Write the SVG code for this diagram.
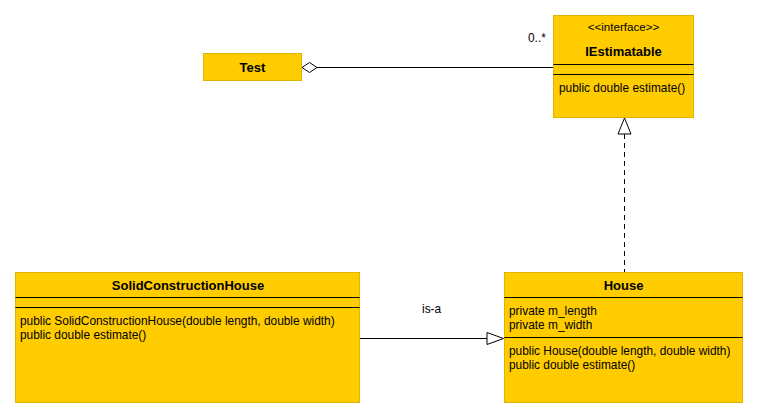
<svg xmlns="http://www.w3.org/2000/svg" width="759" height="419" viewBox="0 0 759 419">
<style>
.box{fill:#FFCC00;stroke:#e0b400;stroke-width:1}
.sep{stroke:#000;stroke-width:1}
text{font-family:"Liberation Sans",Arial,sans-serif;font-size:11.9px;fill:#000}
.t{font-weight:bold;font-size:13px;text-anchor:middle}
.st{font-size:11.6px;text-anchor:middle}
.ln{stroke:#000;stroke-width:1;fill:none}
</style>
<rect width="759" height="419" fill="#fff"/>
<g id="connectors">
<line class="ln" x1="317" y1="67.5" x2="553" y2="67.5"/>
<polygon points="302,67.5 309.5,62.5 317,67.5 309.5,72.5" fill="#fff" stroke="#000"/>
<text x="528" y="42">0..*</text>
<line class="ln" x1="624.5" y1="134" x2="624.5" y2="272" stroke-dasharray="5,4"/>
<polygon points="624.5,118 631,134 618,134" fill="#fff" stroke="#000"/>
<line class="ln" x1="360" y1="338.5" x2="487" y2="338.5"/>
<polygon points="503.5,338.5 487,332.5 487,344.5" fill="#fff" stroke="#000"/>
<text x="422" y="313">is-a</text>
</g>
<g id="Test">
<rect class="box" x="203.5" y="53.5" width="98" height="27"/>
<text class="t" x="252.5" y="71.5">Test</text>
</g>
<g id="IEstimatable">
<rect class="box" x="553.5" y="15.5" width="140" height="102"/>
<text class="st" x="623.5" y="31">&lt;&lt;interface&gt;&gt;</text>
<text class="t" x="623.5" y="56">IEstimatable</text>
<line class="sep" x1="553.5" y1="64.5" x2="693.5" y2="64.5"/>
<line class="sep" x1="553.5" y1="74.5" x2="693.5" y2="74.5"/>
<text x="559" y="92">public double estimate()</text>
</g>
<g id="SolidConstructionHouse">
<rect class="box" x="15.5" y="272.5" width="344" height="130"/>
<text class="t" x="188" y="290">SolidConstructionHouse</text>
<line class="sep" x1="15.5" y1="297.5" x2="359.5" y2="297.5"/>
<line class="sep" x1="15.5" y1="307.5" x2="359.5" y2="307.5"/>
<text x="20" y="325">public SolidConstructionHouse(double length, double width)</text>
<text x="20" y="339">public double estimate()</text>
</g>
<g id="House">
<rect class="box" x="504.5" y="272.5" width="238" height="130"/>
<text class="t" x="623.5" y="290">House</text>
<line class="sep" x1="504.5" y1="297.5" x2="742.5" y2="297.5"/>
<text x="509" y="315">private m_length</text>
<text x="509" y="329">private m_width</text>
<line class="sep" x1="504.5" y1="337.5" x2="742.5" y2="337.5"/>
<text x="509" y="355">public House(double length, double width)</text>
<text x="509" y="369">public double estimate()</text>
</g>
</svg>
